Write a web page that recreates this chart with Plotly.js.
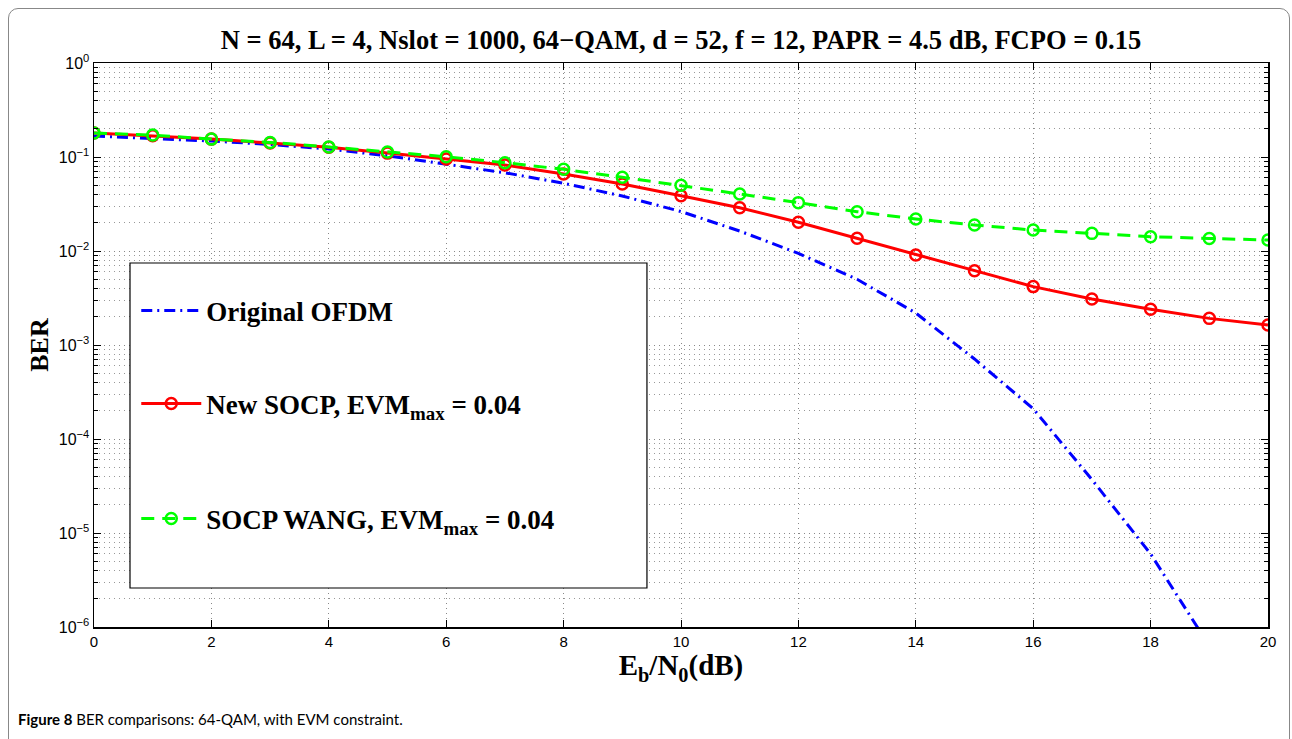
<!DOCTYPE html>
<html><head><meta charset="utf-8">
<script src="https://cdn.plot.ly/plotly-3.0.1.min.js"></script>
<style>
html,body{margin:0;padding:0;background:#fff;}
#frame{position:absolute;left:8px;top:8px;width:1282px;height:780px;border:1.5px solid #888;border-radius:10px;box-sizing:border-box;}
#chart{position:absolute;left:0;top:0;width:1292px;height:739px;}
</style></head><body>
<div id="frame"></div>
<div id="chart"></div>
<script>
// Eb/N0 in dB
const ebn0 = [0,1,2,3,4,5,6,7,8,9,10,11,12,13,14,15,16,17,18,19,20];
// BER values
const berOriginal = [0.167,0.157,0.148,0.136,0.1216,0.103,0.0836,0.068,0.0525,0.0385,0.0263,0.0163,0.00944,0.0050,0.00219,7.1e-4,2.1e-4,3.7e-5,6.0e-6,6.3e-7,5e-8];
const berNewSocp = [0.180,0.168,0.155,0.141,0.127,0.110,0.095,0.082,0.066,0.0516,0.0387,0.0289,0.0202,0.01365,0.00906,0.00617,0.00418,0.00308,0.0024,0.00192,0.00163];
const berSocpWang = [0.180,0.171,0.155,0.143,0.128,0.113,0.1007,0.087,0.074,0.0608,0.050,0.0404,0.0327,0.0262,0.0219,0.0189,0.0167,0.0154,0.0142,0.0136,0.0131];
const seriesNames = ['Original OFDM','New SOCP, EVM<sub>max</sub> = 0.04','SOCP WANG, EVM<sub>max</sub> = 0.04'];
const xTickVals = [0,2,4,6,8,10,12,14,16,18,20];
const yTickVals = [1,0.1,0.01,0.001,0.0001,0.00001,0.000001];
const yTickText = ['10<sup>0</sup>','10<sup>\u22121</sup>','10<sup>\u22122</sup>','10<sup>\u22123</sup>','10<sup>\u22124</sup>','10<sup>\u22125</sup>','10<sup>\u22126</sup>'];
const titleText = 'N = 64, L = 4, Nslot = 1000, 64\u2212QAM, d = 52, f = 12, PAPR = 4.5 dB, FCPO = 0.15';
const xTitle = 'E<sub>b</sub>/N<sub>0</sub>(dB)';
const yTitle = 'BER';
const caption = '<b>Figure 8</b> BER comparisons: 64-QAM, with EVM constraint.';

const serif = 'Liberation Serif, Times New Roman, serif';
const sans = 'Liberation Sans, Arial, sans-serif';

const traces = [
  {x: ebn0, y: berOriginal, name: seriesNames[0], mode: 'lines', legend: 'legend',
   line: {color: '#0000ff', width: 3, dash: '11px,5px,2px,5px'}},
  {x: ebn0, y: berNewSocp, name: seriesNames[1], mode: 'lines+markers', legend: 'legend2',
   line: {color: '#ff0000', width: 3},
   marker: {symbol: 'circle-open', size: 11, color: '#ff0000', line: {width: 2.5, color: '#ff0000'}}},
  {x: ebn0, y: berSocpWang, name: seriesNames[2], mode: 'lines+markers', legend: 'legend3',
   line: {color: '#00ff00', width: 3, dash: '13px,8px'},
   marker: {symbol: 'circle-open', size: 11, color: '#00ff00', line: {width: 2.5, color: '#00ff00'}}}
];

const gridDash = '1px,4px';
const legendFont = {family: serif, size: 27, color: '#000', weight: 'bold'};
const legendBase = {x: 0.036, xanchor: 'left', yanchor: 'top', bgcolor: 'rgba(0,0,0,0)', borderwidth: 0,
                    font: legendFont, itemwidth: 60};
const layout = {
  width: 1292, height: 739,
  margin: {l: 94, r: 24, t: 63, b: 112},
  paper_bgcolor: 'rgba(0,0,0,0)', plot_bgcolor: '#ffffff',
  showlegend: true,
  title: {text: '<b>' + titleText + '</b>', x: 0.5, xref: 'paper', xanchor: 'center',
          y: 1 - 40/739, yanchor: 'middle', font: {family: serif, size: 26.5, color: '#000'}},
  xaxis: {
    range: [0, 20], tickvals: xTickVals, ticks: 'inside', ticklen: 7, tickcolor: '#000', tickwidth: 1,
    showline: true, linecolor: '#000', linewidth: 1.5, mirror: 'ticks',
    showgrid: true, gridcolor: '#888', griddash: gridDash, gridwidth: 1, zeroline: false,
    tickfont: {family: sans, size: 15, color: '#000'},
    title: {text: '<b>' + xTitle + '</b>', font: {family: serif, size: 29, color: '#000'}, standoff: 1}
  },
  yaxis: {
    type: 'log', range: [-6, 0], tickvals: yTickVals, ticktext: yTickText,
    ticks: 'inside', ticklen: 7, tickcolor: '#000', tickwidth: 1,
    showline: true, linecolor: '#000', linewidth: 1.5, mirror: 'ticks',
    showgrid: true, gridcolor: '#888', griddash: gridDash, gridwidth: 1, zeroline: false,
    tickfont: {family: sans, size: 16, color: '#000'},
    minor: {dtick: 'D1', ticks: 'inside', ticklen: 4, tickcolor: '#000', showgrid: true,
            gridcolor: '#999', griddash: gridDash, gridwidth: 1},
    title: {text: '<b>' + yTitle + '</b>', font: {family: serif, size: 26, color: '#000'}, standoff: 2}
  },
  legend: Object.assign({}, legendBase, {y: 0.604}),
  legend2: Object.assign({}, legendBase, {y: 0.439}),
  legend3: Object.assign({}, legendBase, {y: 0.235}),
  shapes: [
    {type: 'rect', xref: 'paper', yref: 'paper', x0: 0.03066, x1: 0.4710, y0: 0.06915, y1: 0.6454,
     fillcolor: '#ffffff', line: {color: '#000', width: 1.2}, layer: 'above'}
  ],
  annotations: [
    {text: caption, xref: 'paper', yref: 'paper', x: -0.0664, y: -0.163, xanchor: 'left', yanchor: 'middle',
     showarrow: false, font: {family: 'Lato, Open Sans, sans-serif', size: 15, color: '#000'}}
  ]
};

Plotly.newPlot('chart', traces, layout, {displayModeBar: false, staticPlot: true});
</script>
</body></html>
